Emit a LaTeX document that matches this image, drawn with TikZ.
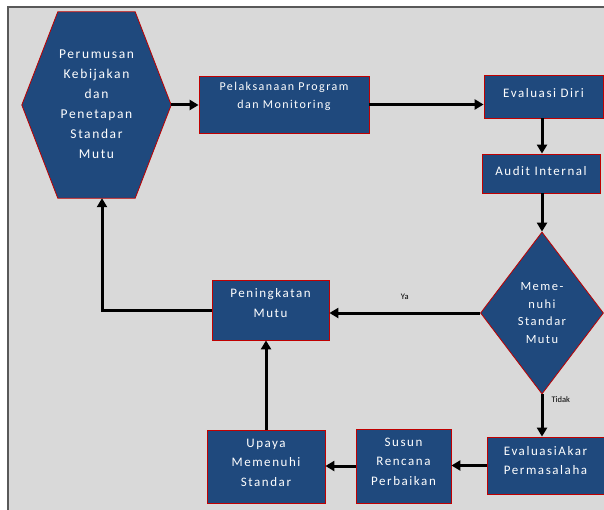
\documentclass[tikz,border=0pt]{standalone}
\usepackage{fontspec}
\usepackage{tikz}
\usetikzlibrary{shapes.geometric,arrows.meta,calc}
\newfontfamily\boxfont[LetterSpace=12]{Carlito}
\definecolor{boxblue}{HTML}{1F497D}
\definecolor{boxred}{HTML}{C00000}
\definecolor{panel}{HTML}{D9D9D9}
\definecolor{rim}{HTML}{595959}

\begin{document}
\begin{tikzpicture}[x=1pt,y=-1pt,
    box/.style={draw=boxred,fill=boxblue,line width=0.8pt,text=white,align=center,
      font=\boxfont\fontsize{13}{19.5}\selectfont,inner sep=0pt},
    hexa/.style={inner sep=0pt,text=white,align=center,
      font=\boxfont\fontsize{13.5}{20}\selectfont},
    link/.style={line width=3pt,-{Triangle[length=9pt,width=10pt]}},
    lbl/.style={font=\fontspec{Carlito}\fontsize{8.5}{9}\selectfont,inner sep=1pt}]
    \useasboundingbox (0,0) rectangle (604,510);
    % panel
    \fill[panel] (8,7) rectangle (604,510);
    \draw[rim,line width=2pt] (8,510) -- (8,7) -- (604,7);

    % first row
    \node[hexa,minimum width=149pt,minimum height=186pt] at (96.5,105) (rumus) {};
    \fill[boxblue,draw=boxred,line width=0.8pt] (rumus.west) -- ([xshift=36pt]rumus.north west)
        -- ([xshift=-36pt]rumus.north east) -- (rumus.east)
        -- ([xshift=-36pt]rumus.south east) -- ([xshift=36pt]rumus.south west) -- cycle;
    \node[hexa] at (96.5,104) {Perumusan\\Kebijakan\\dan\\Penetapan\\Standar\\Mutu};
    \node[box,minimum width=170pt,minimum height=57pt,text depth=18pt,
        font=\boxfont\fontsize{12}{18}\selectfont] at (284,104.5) (laksana)
        {Pelaksanaan Program\\dan Monitoring};
    \node[box,minimum width=119pt,minimum height=43pt,text depth=8pt] at (543.5,96.5) (evaldiri) {Evaluasi Diri};
    \node[box,minimum width=118pt,minimum height=39pt,text depth=5pt] at (541,173.5) (audit) {Audit Internal};

    % decision
    \node[box,diamond,minimum width=123pt,minimum height=162pt,aspect=0.76,
        font=\boxfont\fontsize{12.5}{17.5}\selectfont] at (542,313) (cek)
        {Meme-\\nuhi\\Standar\\Mutu};
    \node[box,minimum width=117pt,minimum height=60pt,text depth=14pt] at (270.5,310) (tingkat)
        {Peningkatan\\Mutu};

    % bottom row
    \node[box,minimum width=117pt,minimum height=57pt,text depth=10pt] at (545.5,465.5) (akar)
        {EvaluasiAkar\\Permasalaha};
    \node[box,minimum width=95pt,minimum height=74pt,text depth=9pt] at (403.5,466) (susun)
        {Susun\\Rencana\\Perbaikan};
    \node[box,minimum width=118pt,minimum height=73pt,text depth=8pt] at (266,466.5) (upaya)
        {Upaya\\Memenuhi\\Standar};

    % connections
    \draw[link] (rumus.east) -- (laksana.west |- rumus.east);
    \draw[link] (laksana.east) -- (laksana.east -| evaldiri.west);
    \draw[link] ([xshift=-1.5pt]evaldiri.south) -- ([xshift=-1.5pt]evaldiri.south |- audit.north);
    \draw[link] ([xshift=1pt]audit.south) -- (cek.north);
    \draw[link] (cek.west) -- node[lbl,above=11pt] {Ya} (cek.west -| tingkat.east);
    \draw[link] (cek.south) -- node[lbl,right=7pt,pos=0.12] {Tidak} (akar.north -| cek.south);
    \draw[link] (akar.west) -- (akar.west -| susun.east);
    \draw[link] (susun.west) -- (susun.west -| upaya.east);
    \draw[link] (upaya.north) -- (upaya.north |- tingkat.south);
    \draw[link] (tingkat.west) -| ([xshift=5.5pt]rumus.south);
\end{tikzpicture}
\end{document}
